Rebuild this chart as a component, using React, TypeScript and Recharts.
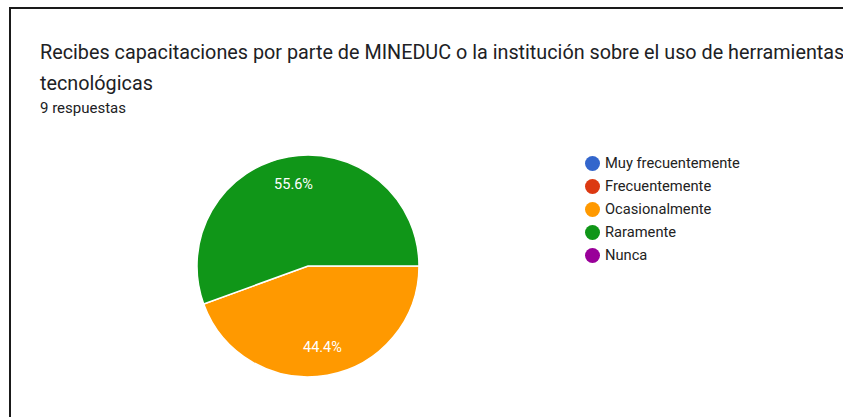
import React from "react";
import { PieChart, Pie, Cell, Legend } from "recharts";

const categories = ["Muy frecuentemente", "Frecuentemente", "Ocasionalmente", "Raramente", "Nunca"];
const counts = [0, 0, 4, 5, 0];
const colors = ["#3366cc", "#dc3912", "#ff9900", "#109618", "#990099"];

const title1 = "Recibes capacitaciones por parte de MINEDUC o la institución sobre el uso de herramientas";
const title2 = "tecnológicas";
const subtitle = "9 respuestas";

const data = categories.map((name, i) => ({ name, value: counts[i], color: colors[i] }));

const RAD = Math.PI / 180;
const FONT = "Roboto, 'Noto Sans', Arial, sans-serif";

const renderLabel = (props: any) => {
  const { cx, cy, midAngle, outerRadius, percent } = props;
  if (!percent) return null;
  const r = outerRadius * 0.75;
  const x = cx + r * Math.cos(-midAngle * RAD);
  const y = cy + r * Math.sin(-midAngle * RAD);
  return (
    <text x={x} y={y} fill="#ffffff" textAnchor="middle" dominantBaseline="central" fontSize={14.5} fontFamily={FONT}>
      {(percent * 100).toFixed(1) + "%"}
    </text>
  );
};

const renderLegend = () => (
  <div style={{ fontFamily: FONT, fontSize: 14.7, color: "#222" }}>
    {data.map((d) => (
      <div key={d.name} style={{ display: "flex", alignItems: "center", height: 23 }}>
        <span style={{ width: 15, height: 15, borderRadius: 8, background: d.color, display: "inline-block", marginRight: 5, flex: "none" }} />
        <span style={{ whiteSpace: "nowrap" }}>{d.name}</span>
      </div>
    ))}
  </div>
);

export default function App() {
  return (
    <div style={{ position: "absolute", left: 0, top: 0, width: 843, height: 417, overflow: "hidden", background: "#fff" }}>
      <div style={{ position: "absolute", left: 9, top: 7, width: 900, height: 500, borderTop: "2px solid #1a1a1a", borderLeft: "2px solid #1a1a1a" }} />
      <div style={{ position: "absolute", left: 40, top: 36.7, fontFamily: FONT, fontSize: 19.8, color: "#202124", whiteSpace: "nowrap", lineHeight: "31px" }}>
        <div>{title1}</div>
        <div>{title2}</div>
      </div>
      <div style={{ position: "absolute", left: 40, top: 99, fontFamily: FONT, fontSize: 15, color: "#202124", whiteSpace: "nowrap", lineHeight: "18px" }}>
        {subtitle}
      </div>
      <div style={{ position: "absolute", left: 0, top: 0 }}>
        <PieChart width={843} height={417} margin={{ top: 0, right: 0, bottom: 0, left: 0 }}>
          <Pie
            data={data}
            dataKey="value"
            nameKey="name"
            cx={308}
            cy={266}
            outerRadius={111}
            startAngle={0}
            endAngle={-360}
            stroke="#ffffff"
            strokeWidth={1.5}
            label={renderLabel}
            labelLine={false}
            isAnimationActive={false}
          >
            {data.map((d) => (
              <Cell key={d.name} fill={d.color} />
            ))}
          </Pie>
          <Legend
            layout="vertical"
            verticalAlign="top"
            align="right"
            content={renderLegend}
            wrapperStyle={{ position: "absolute", left: 585, top: 151.5, width: 220 }}
          />
        </PieChart>
      </div>
    </div>
  );
}
